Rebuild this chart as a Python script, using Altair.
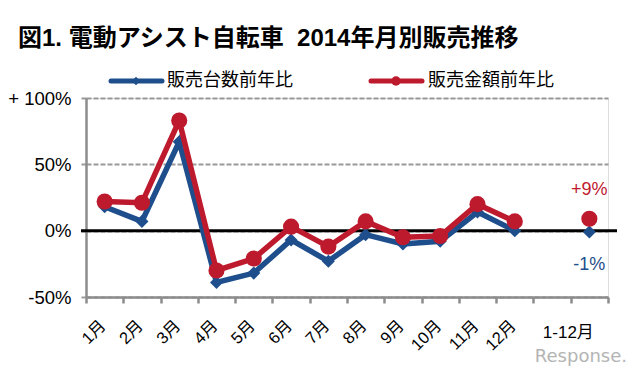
import altair as alt
import pandas as pd

months = ["1月", "2月", "3月", "4月", "5月", "6月", "7月", "8月", "9月", "10月", "11月", "12月"]
gap_cat = " "
total_cat = "1-12月"
categories = months + [gap_cat, total_cat]

units_yoy = [18, 7, 67, -39, -32, -7, -23, -3, -10, -8, 14, 0]
sales_yoy = [22, 21, 83, -30, -21, 3, -12, 7, -5, -4, 20, 7]
units_total = -1
sales_total = 9

series_units = "販売台数前年比"
series_sales = "販売金額前年比"
title_text = "図1. 電動アシスト自転車\u00a0\u00a02014年月別販売推移"

BLUE = "#1F4E8C"
RED = "#BE1A2E"
FONT = "Liberation Sans, 'Noto Sans CJK JP', sans-serif"

W, H = 522, 199

rows = []
for m, u, s in zip(months, units_yoy, sales_yoy):
    rows.append({"cat": m, "series": "u", "value": u, "seg": "m"})
    rows.append({"cat": m, "series": "s", "value": s, "seg": "m"})
rows.append({"cat": total_cat, "series": "u", "value": units_total, "seg": "t"})
rows.append({"cat": total_cat, "series": "s", "value": sales_total, "seg": "t"})
df = pd.DataFrame(rows)

xscale = alt.Scale(type="band", domain=categories, paddingInner=0, paddingOuter=0)
yscale = alt.Scale(domain=[-50, 100], nice=False, zero=False)

X = alt.X("cat:N", scale=xscale, bandPosition=0.5,
          axis=alt.Axis(title=None, labels=False, tickBand="extent", domainColor="#8c8c8c",
                        domainWidth=2.5, tickColor="#8c8c8c", tickWidth=2.5, tickSize=6, grid=False))
Y = alt.Y("value:Q", scale=yscale,
          axis=alt.Axis(title=None, values=[-50, 0, 50, 100],
                        labelExpr="datum.value == 100 ? '+ 100%' : datum.value + '%'",
                        labelFont=FONT, labelFontSize=18.5, labelColor="#000", labelPadding=10,
                        domainColor="#8c8c8c", domainWidth=2.5, tickColor="#999",
                        tickWidth=2, tickSize=5, grid=True, gridColor="#999",
                        gridDash=[5, 2], gridWidth=2))

units_df = df[df.series == "u"]
sales_df = df[df.series == "s"]

blue_line = alt.Chart(units_df).mark_line(color=BLUE, strokeWidth=5.5).encode(x=X, y=Y, detail="seg:N")
blue_pts = alt.Chart(units_df).mark_point(shape="diamond", filled=True, color=BLUE, size=170, opacity=1).encode(x=X, y=Y)
red_line = alt.Chart(sales_df).mark_line(color=RED, strokeWidth=5.5).encode(x=X, y=Y, detail="seg:N")
red_pts = alt.Chart(sales_df).mark_point(shape="circle", filled=True, color=RED, size=260, opacity=1).encode(x=X, y=Y)

zero_rule = alt.Chart(pd.DataFrame({"value": [0]})).mark_rule(color="black", strokeWidth=3).encode(
    y=alt.Y("value:Q", scale=yscale), x=alt.value(-5), x2=alt.value(W + 9))

month_labels = alt.Chart(pd.DataFrame({"cat": months})).mark_text(
    angle=315, align="right", baseline="middle", font=FONT, fontSize=16.5, dx=-2, color="#000"
).encode(x=alt.X("cat:N", scale=xscale, bandPosition=0.5), y=alt.value(H + 25), text="cat:N")

total_label = alt.Chart(pd.DataFrame({"cat": [total_cat]})).mark_text(
    align="center", baseline="middle", font=FONT, fontSize=17, dx=-21, color="#000"
).encode(x=alt.X("cat:N", scale=xscale, bandPosition=0.5), y=alt.value(H + 36), text="cat:N")

ann = pd.DataFrame({"cat": [total_cat, total_cat], "value": [sales_total, units_total],
                    "txt": ["+9%", "-1%"], "series": ["s", "u"]})
ann_red = alt.Chart(ann[ann.series == "s"]).mark_text(
    font=FONT, fontSize=18, color=RED, dy=-29, baseline="middle").encode(x=X, y=Y, text="txt:N")
ann_blue = alt.Chart(ann[ann.series == "u"]).mark_text(
    font=FONT, fontSize=18, color=BLUE, dy=33, baseline="middle").encode(x=X, y=Y, text="txt:N")

title = alt.Chart(pd.DataFrame({"t": [title_text]})).mark_text(
    align="left", baseline="middle", font=FONT, fontSize=24, fontWeight="bold", color="#000"
).encode(x=alt.value(-68), y=alt.value(-59), text="t:N")

# legend
leg_y = -17
leg = pd.DataFrame({"s": [series_units, series_sales]})
leg_blue_line = alt.Chart(leg.iloc[[0]]).mark_rule(color=BLUE, strokeWidth=5, strokeCap="round").encode(
    x=alt.value(25), x2=alt.value(76), y=alt.value(leg_y))
leg_blue_pt = alt.Chart(leg.iloc[[0]]).mark_point(shape="diamond", filled=True, color=BLUE, size=70, opacity=1).encode(
    x=alt.value(50), y=alt.value(leg_y))
leg_blue_txt = alt.Chart(leg.iloc[[0]]).mark_text(align="left", baseline="middle", font=FONT, fontSize=18, color="#000").encode(
    x=alt.value(81), y=alt.value(leg_y), text="s:N")
leg_red_line = alt.Chart(leg.iloc[[1]]).mark_rule(color=RED, strokeWidth=5, strokeCap="round").encode(
    x=alt.value(285), x2=alt.value(336), y=alt.value(leg_y))
leg_red_pt = alt.Chart(leg.iloc[[1]]).mark_point(shape="circle", filled=True, color=RED, size=90, opacity=1).encode(
    x=alt.value(310), y=alt.value(leg_y))
leg_red_txt = alt.Chart(leg.iloc[[1]]).mark_text(align="left", baseline="middle", font=FONT, fontSize=18, color="#000").encode(
    x=alt.value(342), y=alt.value(leg_y), text="s:N")

watermark = alt.Chart(pd.DataFrame({"t": ["Response."]})).mark_text(
    align="right", baseline="alphabetic", font="DejaVu Sans, sans-serif", fontSize=18, color="#b4b4b4"
).encode(x=alt.value(541), y=alt.value(264), text="t:N")

chart = alt.layer(
    zero_rule, blue_line, blue_pts, red_line, red_pts,
    month_labels, total_label, ann_red, ann_blue, title,
    leg_blue_line, leg_blue_pt, leg_blue_txt, leg_red_line, leg_red_pt, leg_red_txt,
    watermark,
).resolve_scale(x="shared", y="shared").properties(
    width=W, height=H,
    autosize=alt.AutoSizeParams(type="none"),
    padding={"left": 78, "top": 90, "right": 24, "bottom": 70},
).configure_view(stroke=None).configure(background="white")

chart.save("out.html", embed_options={"renderer": "svg", "actions": False})
